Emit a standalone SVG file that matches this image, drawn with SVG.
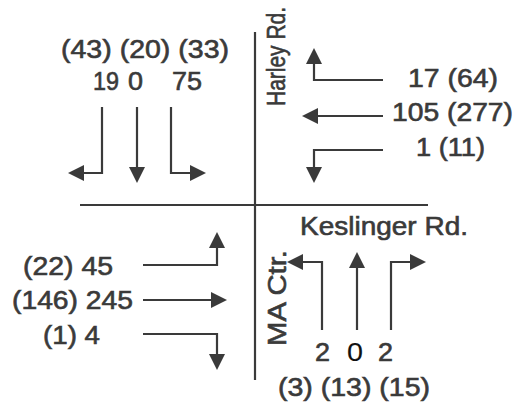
<svg xmlns="http://www.w3.org/2000/svg" width="515" height="408" viewBox="0 0 515 408">
<style>
text{font-family:"Liberation Sans",Arial,sans-serif;font-size:25px;fill:#3a3a3a;stroke:#3a3a3a;stroke-width:0.6}
.vt{font-size:26px}
.vh{font-size:21px;stroke-width:0.5}
.road{stroke:#3a3a3a;stroke-width:2.2;fill:none}
.arr{stroke:#3a3a3a;stroke-width:2.2;fill:none;marker-end:url(#ah)}
.blk{fill:#111;stroke:#111;stroke-width:0.1}
</style>
<defs>
<marker id="ah" markerUnits="userSpaceOnUse" markerWidth="16" markerHeight="16" viewBox="0 0 16 16" refX="8" refY="8" orient="auto">
<path d="M0,0 L16,8 L0,16 z" fill="#3a3a3a"/>
</marker>
</defs>
<rect width="515" height="408" fill="#fff"/>
<g id="roads">
<path class="road" d="M255,32 V380"/>
<path class="road" d="M80,205 H428"/>
<text class="vh" transform="translate(285,106) rotate(-90) scale(1,1.22)" textLength="99" lengthAdjust="spacingAndGlyphs">Harley Rd.</text>
<text x="300" y="235" textLength="168" lengthAdjust="spacingAndGlyphs">Keslinger Rd.</text>
<text class="vt" transform="translate(286,346) rotate(-90)" textLength="96" lengthAdjust="spacingAndGlyphs">MA Ctr.</text>
</g>
<g id="connectors">
<path class="arr" d="M102,107 V173 H76"/>
<path class="arr" d="M137,107 V175"/>
<path class="arr" d="M171,107 V173 H198"/>
<path class="arr" d="M383,80 H314 V56"/>
<path class="arr" d="M383,116 H310"/>
<path class="arr" d="M383,150 H314 V175"/>
<path class="arr" d="M143,265 H217 V240"/>
<path class="arr" d="M143,300 H219"/>
<path class="arr" d="M143,334 H217 V362"/>
<path class="arr" d="M322,330 V262 H295"/>
<path class="arr" d="M357,330 V260"/>
<path class="arr" d="M391,330 V262 H418"/>
</g>
<g id="north">
<text x="61" y="58" textLength="168" lengthAdjust="spacingAndGlyphs">(43) (20) (33)</text>
<text x="93" y="90" textLength="26" lengthAdjust="spacingAndGlyphs">19</text>
<text x="128" y="90" textLength="15" lengthAdjust="spacingAndGlyphs">0</text>
<text x="172" y="90" textLength="30" lengthAdjust="spacingAndGlyphs">75</text>
</g>
<g id="east">
<text x="408" y="87" textLength="90" lengthAdjust="spacingAndGlyphs">17 (64)</text>
<text x="392" y="121" textLength="121" lengthAdjust="spacingAndGlyphs">105 (277)</text>
<text x="416" y="156" textLength="69" lengthAdjust="spacingAndGlyphs">1 (11)</text>
</g>
<g id="west">
<text x="23" y="275" textLength="90" lengthAdjust="spacingAndGlyphs">(22) 45</text>
<text x="12" y="309" textLength="121" lengthAdjust="spacingAndGlyphs">(146) 245</text>
<text x="43" y="344" textLength="57" lengthAdjust="spacingAndGlyphs">(1) 4</text>
</g>
<g id="south">
<text x="315" y="361" textLength="15" lengthAdjust="spacingAndGlyphs">2</text>
<text class="blk" x="347" y="361" textLength="16" lengthAdjust="spacingAndGlyphs">0</text>
<text x="378" y="361" textLength="15" lengthAdjust="spacingAndGlyphs">2</text>
<text x="278" y="396" textLength="152" lengthAdjust="spacingAndGlyphs">(3) (13) (15)</text>
</g>
</svg>
